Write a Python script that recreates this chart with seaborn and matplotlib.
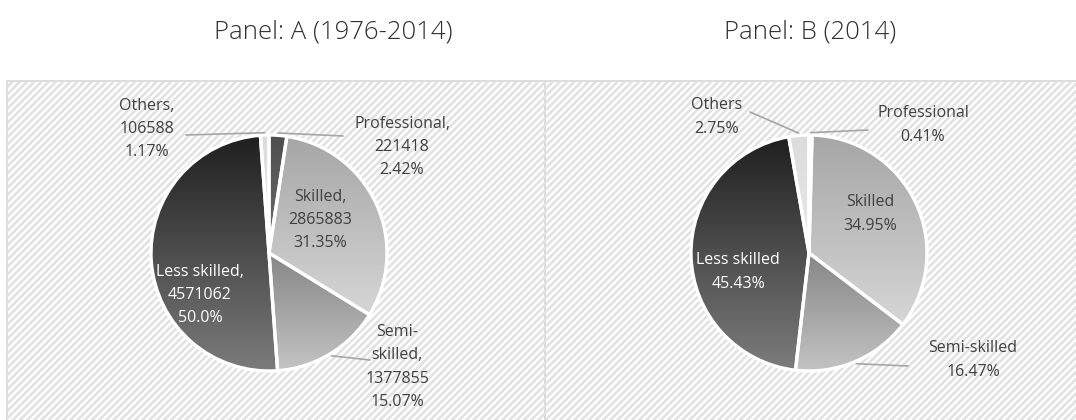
import numpy as np
import matplotlib
matplotlib.use("Agg")
import matplotlib.pyplot as plt
import seaborn as sns
from matplotlib.colors import LinearSegmentedColormap
from matplotlib.collections import LineCollection
from matplotlib.patches import Rectangle

# data
categories = ["Professional", "Skilled", "Semi-skilled", "Less skilled", "Others"]
counts_a = [221418, 2865883, 1377855, 4571062, 106588]
pct_a = [2.42, 31.35, 15.07, 50.0, 1.17]
pct_b = [0.41, 34.95, 16.47, 45.43, 2.75]
titles = ["Panel: A (1976-2014)", "Panel: B (2014)"]

# slice shading, (top, bottom) of each vertical gradient
grads = [("#4e4e4e", "#6e6e6e"), ("#a6a6a6", "#d6d6d6"), ("#868686", "#c4c4c4"),
         ("#1f1f1f", "#7c7c7c"), ("#dcdcdc", "#e9e9e9")]
text_cols = ["#404040", "#404040", "#404040", "white", "#404040"]

# layout in image pixels (y down)
W, H = 1076, 420
R = 118
centers = [(269, 253), (809, 253)]
title_pos = [(333, 32), (810, 32)]
boxes = [(7, 81, 545, 425), (545, 81, 1080, 425)]
label_pos = [
    [(402, 147), (320, 220), (397, 367), (200, 295), (147, 129)],
    [(923, 125), (870, 214), (973, 360), (738, 272), (717, 117)],
]
leader_end = [
    [(343, 136), None, (370, 360), None, (186, 135)],
    [(868, 130), None, (908, 366), None, (750, 112)],
]

sns.set_theme(style="white")
plt.rcParams["font.family"] = ["Open Sans", "DejaVu Sans"]

fig = plt.figure(figsize=(W / 100, H / 100), dpi=100)
ax = fig.add_axes([0, 0, 1, 1])


def Y(y):
    return H - y


# panel frames with diagonal hatching
for (x0, y0, x1, y1) in boxes:
    rect = Rectangle((x0, Y(y1)), x1 - x0, y1 - y0, facecolor="white",
                     edgecolor="#d9d9d9", lw=1.3, zorder=0)
    ax.add_patch(rect)
    period = 7.2
    segs = []
    for c in np.arange(-W - H, H + W, period):
        segs.append([(-50, -50 + c), (W + 50, W + 50 + c)])
    lc = LineCollection(segs, colors="#e2e2e2", linewidths=1.9, zorder=0.5)
    ax.add_collection(lc)
    lc.set_clip_path(rect)

labels_a = [f"{n.replace('Semi-', 'Semi-' + chr(10))},\n{c}\n{p}%"
            for n, c, p in zip(categories, counts_a, pct_a)]
labels_b = [f"{n}\n{p}%" for n, p in zip(categories, pct_b)]

for k, (vals, labs) in enumerate([(counts_a, labels_a), (pct_b, labels_b)]):
    cx, cy = centers[k]
    wedges, _ = ax.pie(vals, startangle=90, counterclock=False,
                       center=(cx, Y(cy)), radius=R, frame=True,
                       wedgeprops=dict(edgecolor="white", linewidth=2.4))
    total = float(sum(vals))
    cum = 0.0
    for i, w in enumerate(wedges):
        w.set_zorder(3)
        v = w.get_path().vertices
        top, bot = grads[i]
        cmap = LinearSegmentedColormap.from_list("g", [bot, top])
        im = ax.imshow(np.linspace(0, 1, 256).reshape(-1, 1), cmap=cmap,
                       extent=(v[:, 0].min(), v[:, 0].max(), v[:, 1].min(), v[:, 1].max()),
                       origin="lower", aspect="auto", zorder=2, interpolation="bilinear")
        im.set_clip_path(w)
        w.set_facecolor("none")

        mid = 90 - 360 * (cum + vals[i] / 2) / total
        cum += vals[i]
        lx, ly = label_pos[k][i]
        ax.text(lx, Y(ly), labs[i], ha="center", va="center", fontsize=11.5,
                color=text_cols[i], linespacing=1.6, zorder=5)
        if leader_end[k][i] is not None:
            ex, ey = leader_end[k][i]
            sx = cx + 1.02 * R * np.cos(np.radians(mid))
            sy = Y(cy) + 1.02 * R * np.sin(np.radians(mid))
            ax.plot([sx, ex], [sy, Y(ey)], color="#a6a6a6", lw=1.2, zorder=4)

    tx, ty = title_pos[k]
    ax.text(tx, Y(ty), titles[k], ha="center", va="center", fontsize=18.5,
            color="#303030", fontweight="light")

ax.set_xlim(0, W)
ax.set_ylim(0, H)
ax.set_aspect("auto")
ax.axis("off")

fig.savefig("out.png", dpi=100)
